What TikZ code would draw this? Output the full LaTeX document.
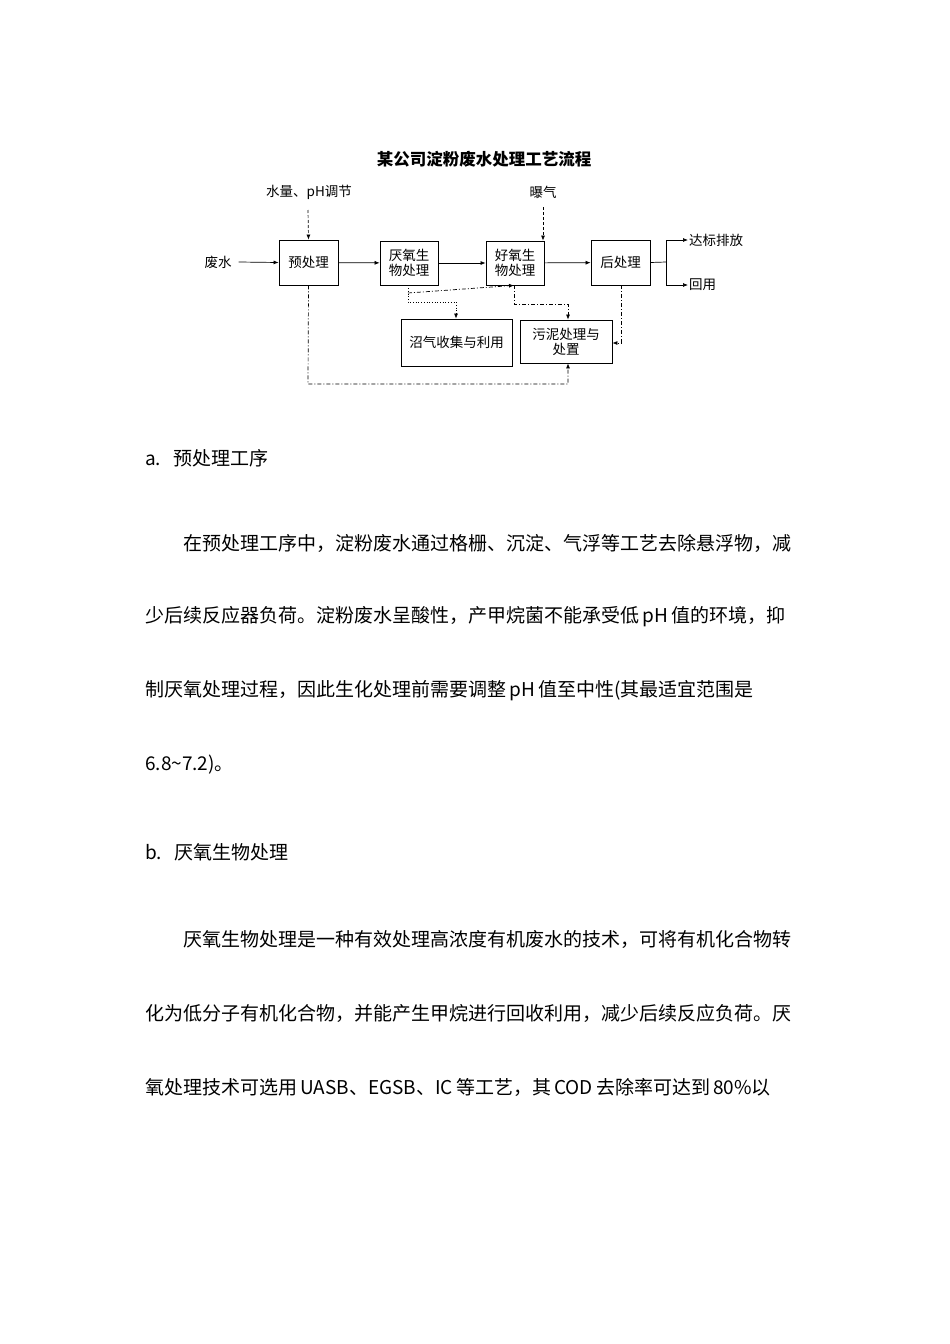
\documentclass[tikz,border=0pt]{standalone}
\usepackage{fontspec}
\setmainfont{Liberation Serif}
\newfontfamily\cjk{Noto Sans CJK SC}
\usetikzlibrary{arrows.meta}
\begin{document}
\begin{tikzpicture}[x=1pt,y=-1pt,
  bx/.style={draw,line width=0.8pt,font=\cjk\fontsize{13.5}{15}\selectfont,align=center,inner sep=0pt},
  lbl/.style={font=\cjk\fontsize{13.5}{15}\selectfont,inner sep=1pt},
  ar/.style={-{Latex[length=5pt,width=4pt]},line width=0.7pt},
  dd/.style={ar,dash pattern=on 4pt off 2pt on 1pt off 2pt},
  dsh/.style={ar,dash pattern=on 3pt off 2pt},
  dt/.style={ar,dotted},
  body/.style={anchor=west,inner sep=0pt,font=\cjk\fontsize{19}{21}\selectfont}]
\useasboundingbox (0,0) rectangle (950,1344);
\node[font=\cjk\bfseries\fontsize{16.5}{18}\selectfont] (title) at (484,159) {某公司淀粉废水处理工艺流程};
\node[bx,minimum width=59pt,minimum height=45pt] (pre) at (308.5,262.5) {预处理};
\node[bx,minimum width=58pt,minimum height=44pt] (ana) at (409,263) {厌氧生\\物处理};
\node[bx,minimum width=58pt,minimum height=44pt] (aer) at (515,263) {好氧生\\物处理};
\node[bx,minimum width=59pt,minimum height=45pt] (post) at (620.5,262.5) {后处理};
\node[bx,minimum width=111pt,minimum height=47pt] (gas) at (456.5,342.5) {沼气收集与利用};
\node[bx,minimum width=92pt,minimum height=43pt] (sl) at (566,341.5) {污泥处理与\\处置};
\node[lbl] (ww) at (218,262) {废水};
\node[lbl] (ph) at (309,192) {水量、pH调节};
\node[lbl] (bq) at (543,192) {曝气};
\node[lbl,anchor=west] (db) at (688,240) {达标排放};
\node[lbl,anchor=west] (hy) at (688,285) {回用};
\coordinate (sp) at (666,262);
\draw[ar] (ww.east) ++(6,0) -- (pre.west);
\draw[ar] (pre) -- (ana);
\draw[ar] (ana) -- (aer);
\draw[ar] (aer) -- (post);
\draw[line width=0.7pt] (post.east) -- (sp);
\draw[ar] (sp) |- (db.west);
\draw[ar] (sp) |- (hy.west);
\draw[dsh] (308,210) -- (pre.north);
\draw[dsh] (543,207) -- (aer.north -| 543,0);
\draw[dt] (ana.south -| 408,0) -- (408,302) -| (gas.north -| 456,0);
\draw[dd] (408,293) -- (aer.south -| 514,293);
\draw[dd] (aer.south -| 514,0) -- (514,304) -| (sl.north -| 568,0);
\draw[dd] (post.south -| 621,0) |- (sl.east |- 0,343);
\draw[dd] (pre.south) -- (308,384) -| (sl.south -| 568,0);
\node[body] (a) at (145,458) {a.\hspace{12pt}预处理工序};
\node[body] (p1) at (183,543) {在预处理工序中，淀粉废水通过格栅、沉淀、气浮等工艺去除悬浮物，减};
\node[body] (p2) at (145,617) {少后续反应器负荷。淀粉废水呈酸性，产甲烷菌不能承受低\,pH\,值的环境，抑};
\node[body] (p3) at (145,691) {制厌氧处理过程，因此生化处理前需要调整\,pH\,值至中性(其最适宜范围是};
\node[body] (p4) at (145,765) {6.8\char`~7.2)。};
\node[body] (b) at (145,852) {b.\hspace{12pt}厌氧生物处理};
\node[body] (q1) at (183,939) {厌氧生物处理是一种有效处理高浓度有机废水的技术，可将有机化合物转};
\node[body] (q2) at (145,1013) {化为低分子有机化合物，并能产生甲烷进行回收利用，减少后续反应负荷。厌};
\node[body] (q3) at (145,1087) {氧处理技术可选用\,UASB、EGSB、IC\,等工艺，其\,COD\,去除率可达到\,80\%以};
\end{tikzpicture}
\end{document}
